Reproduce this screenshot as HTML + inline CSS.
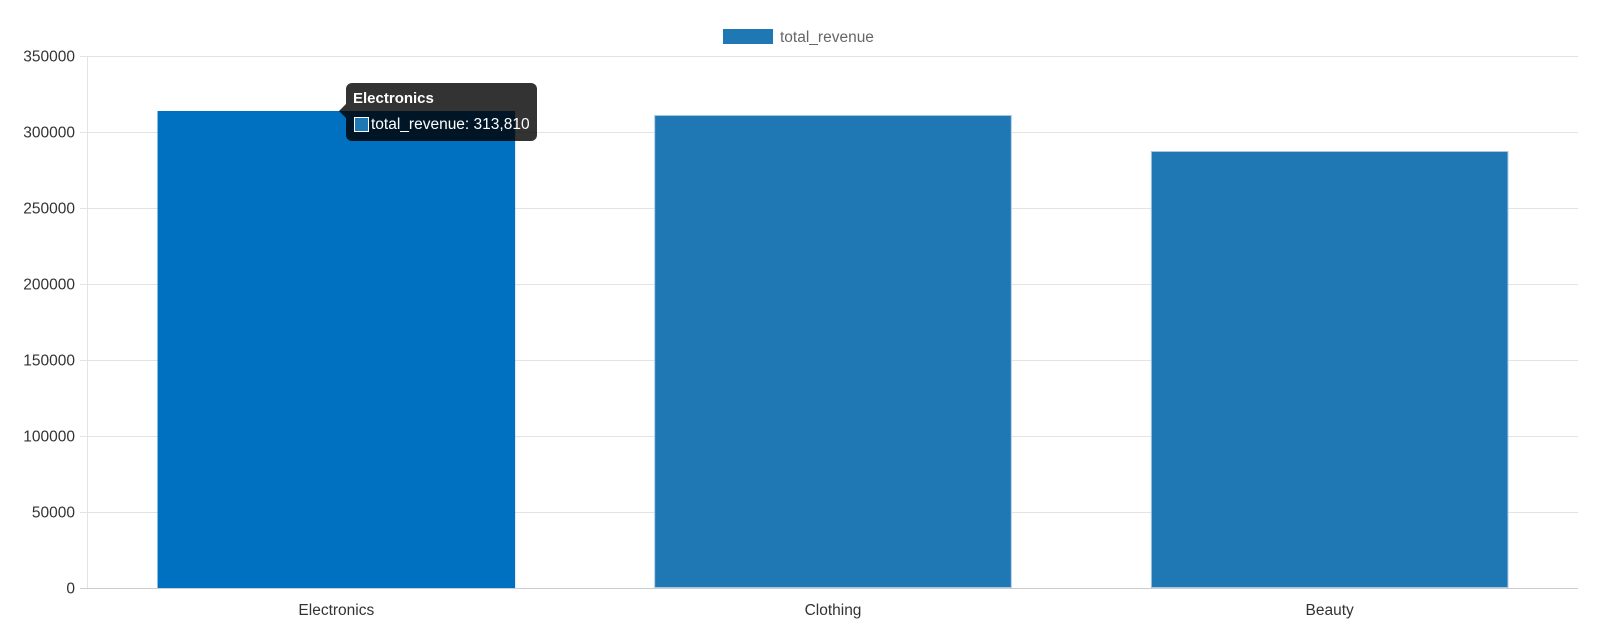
<!DOCTYPE html>
<html><head><meta charset="utf-8"><style>
body{margin:0;background:#fff;font-family:"Liberation Sans",Arial,sans-serif;}
svg text{font-family:"Liberation Sans",Arial,sans-serif;}
</style></head><body>
<svg id="chart" width="1600" height="630">
<g id="grid"></g>
<g id="bars"></g>
<g id="axes"></g>
<g>
<rect x="723" y="29" width="50" height="15" fill="#1f77b4"/>
<text x="780" y="42" font-size="15.5" fill="#666">total_revenue</text>
</g>
<g>
<rect x="346" y="83" width="191" height="58" rx="6" fill="rgba(0,0,0,0.8)"/>
<path d="M346 104 L339 111 L346 118 Z" fill="rgba(0,0,0,0.8)"/>
<text x="353" y="103" font-size="15" font-weight="bold" fill="#fff">Electronics</text>
<rect x="354.5" y="117.5" width="14" height="14" fill="#1f77b4" stroke="#fff" stroke-width="1"/>
<text x="371" y="129" font-size="15.5" fill="#fff">total_revenue: 313,810</text>
</g>
</svg>
<script>
const categories=["Electronics","Clothing","Beauty"];
const revenue=[313810,311200,287500];
const yTicks=[0,50000,100000,150000,200000,250000,300000,350000];
const X0=88,X1=1578,Y0=588,Y1=56,YMAX=350000;
const NS="http://www.w3.org/2000/svg";
function y(v){return Y0-(v/YMAX)*(Y0-Y1);}
const band=(X1-X0)/categories.length;
function xc(i){return X0+band*(i+0.5);}
function mk(tag,attrs,parent){const e=document.createElementNS(NS,tag);for(const k in attrs)e.setAttribute(k,attrs[k]);parent.appendChild(e);return e;}
const grid=document.getElementById('grid'),bars=document.getElementById('bars'),axes=document.getElementById('axes');
yTicks.forEach(t=>{
 const l=mk('line',{x1:X0-8,x2:X1,y1:y(t)+0.5,y2:y(t)+0.5,stroke:t===0?'#ccc':'#e3e3e3'},grid);
 
 
 const tx=mk('text',{x:X0-13,y:y(t)+5.5,'text-anchor':'end','font-size':'15.5',fill:'#333'},axes);
 tx.textContent=String(t);
 
 
});
const ax=mk('line',{x1:X0-0.5,x2:X0-0.5,y1:Y1,y2:Y0,stroke:'#e3e3e3'},axes);


const bw=band*0.72;
categories.forEach((c,i)=>{
 const r=mk('rect',{x:xc(i)-bw/2+0.5,y:y(revenue[i])+0.5,width:bw-1,height:Y0-y(revenue[i])-1,fill:i===0?'#0070c0':'#1f77b4',stroke:i===0?'#0070c0':'#a6c8e4','stroke-width':1},bars);
 
 
 const tx=mk('text',{x:xc(i),y:615,'text-anchor':'middle','font-size':'15.5',fill:'#333'},axes);
 tx.textContent=c;
 
 
});
</script>
</body></html>
